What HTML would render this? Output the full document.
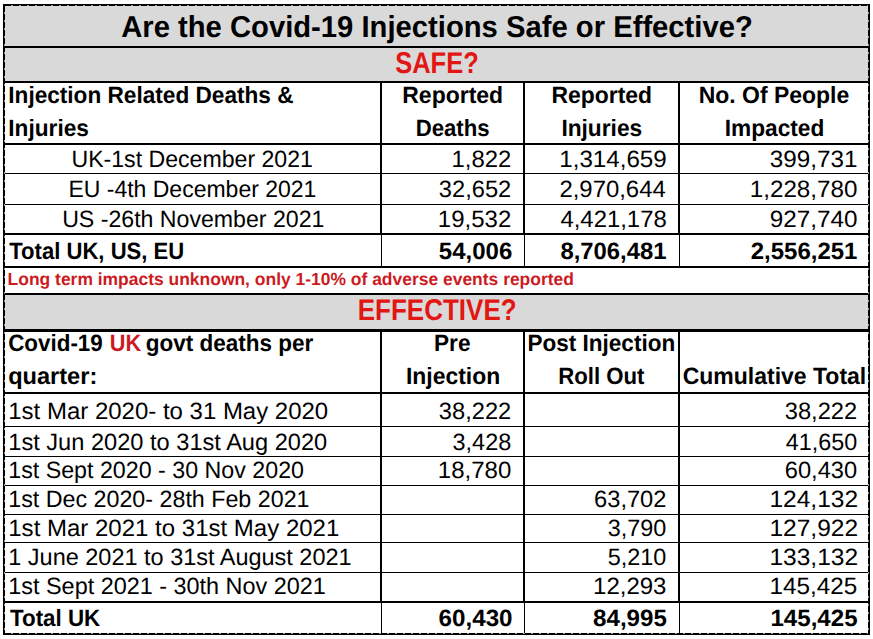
<!DOCTYPE html>
<html><head><meta charset="utf-8"><style>
html,body{margin:0;padding:0;background:#fff;width:873px;height:639px;overflow:hidden;position:relative}
svg{position:absolute;left:0;top:0}
text{font-family:"Liberation Sans",sans-serif;text-rendering:geometricPrecision}
</style></head><body>
<div style="position:absolute;left:3px;top:4px;width:867px;height:44px;background:#d9d9d9"></div>
<div style="position:absolute;left:3px;top:47px;width:867px;height:35px;background:#d9d9d9"></div>
<div style="position:absolute;left:3px;top:294px;width:867px;height:37px;background:#d9d9d9"></div>
<div style="position:absolute;left:3px;top:46px;width:867px;height:2px;background:#000"></div>
<div style="position:absolute;left:3px;top:81px;width:867px;height:2px;background:#000"></div>
<div style="position:absolute;left:3px;top:143px;width:867px;height:2px;background:#000"></div>
<div style="position:absolute;left:3px;top:173px;width:867px;height:1px;background:#000"></div>
<div style="position:absolute;left:3px;top:204px;width:867px;height:1px;background:#000"></div>
<div style="position:absolute;left:3px;top:233px;width:867px;height:2px;background:#000"></div>
<div style="position:absolute;left:3px;top:266px;width:867px;height:2px;background:#000"></div>
<div style="position:absolute;left:3px;top:293px;width:867px;height:2px;background:#000"></div>
<div style="position:absolute;left:3px;top:329px;width:867px;height:3px;background:#000"></div>
<div style="position:absolute;left:3px;top:392px;width:867px;height:2px;background:#000"></div>
<div style="position:absolute;left:3px;top:426px;width:867px;height:1px;background:#000"></div>
<div style="position:absolute;left:3px;top:456px;width:867px;height:1px;background:#000"></div>
<div style="position:absolute;left:3px;top:485px;width:867px;height:1px;background:#000"></div>
<div style="position:absolute;left:3px;top:514px;width:867px;height:1px;background:#000"></div>
<div style="position:absolute;left:3px;top:542px;width:867px;height:1px;background:#000"></div>
<div style="position:absolute;left:3px;top:572px;width:867px;height:1px;background:#000"></div>
<div style="position:absolute;left:3px;top:601px;width:867px;height:2px;background:#000"></div>
<div style="position:absolute;left:380px;top:82px;width:2px;height:152px;background:#000"></div>
<div style="position:absolute;left:381px;top:234px;width:1px;height:33px;background:#000"></div>
<div style="position:absolute;left:380px;top:331px;width:2px;height:271px;background:#000"></div>
<div style="position:absolute;left:381px;top:602px;width:1px;height:32px;background:#000"></div>
<div style="position:absolute;left:523px;top:82px;width:2px;height:152px;background:#000"></div>
<div style="position:absolute;left:524px;top:234px;width:1px;height:33px;background:#000"></div>
<div style="position:absolute;left:523px;top:331px;width:2px;height:271px;background:#000"></div>
<div style="position:absolute;left:524px;top:602px;width:1px;height:32px;background:#000"></div>
<div style="position:absolute;left:678px;top:82px;width:2px;height:152px;background:#000"></div>
<div style="position:absolute;left:679px;top:234px;width:1px;height:33px;background:#000"></div>
<div style="position:absolute;left:678px;top:331px;width:2px;height:271px;background:#000"></div>
<div style="position:absolute;left:679px;top:602px;width:1px;height:32px;background:#000"></div>
<div style="position:absolute;left:3px;top:4px;width:863px;height:627px;border:2px solid #000"></div>
<div style="position:absolute;left:5px;top:5px;width:863px;height:1px;background:repeating-linear-gradient(90deg,transparent 0 6px,#9a9a9a 6px 8px)"></div>
<div style="position:absolute;left:5px;top:633px;width:863px;height:1px;background:repeating-linear-gradient(90deg,transparent 0 6px,#9a9a9a 6px 8px)"></div>
<div style="position:absolute;left:4px;top:6px;width:1px;height:627px;background:repeating-linear-gradient(180deg,transparent 0 6px,#9a9a9a 6px 8px)"></div>
<div style="position:absolute;left:868px;top:6px;width:1px;height:627px;background:repeating-linear-gradient(180deg,transparent 0 6px,#9a9a9a 6px 8px)"></div>
<svg width="873" height="639">
<text x="121.17" y="37.0" font-size="30.23" font-weight="700" fill="#000000" textLength="631.66" lengthAdjust="spacingAndGlyphs">Are the Covid-19 Injections Safe or Effective?</text>
<text x="395.21" y="73.0" font-size="29.94" font-weight="700" fill="#e21612" textLength="83.56" lengthAdjust="spacingAndGlyphs">SAFE?</text>
<text x="8.29" y="103.0" font-size="23.55" font-weight="700" fill="#000000" textLength="285.23" lengthAdjust="spacingAndGlyphs">Injection Related Deaths &amp;</text>
<text x="8.27" y="136.0" font-size="23.55" font-weight="700" fill="#000000" textLength="80.64" lengthAdjust="spacingAndGlyphs">Injuries</text>
<text x="402.27" y="103.0" font-size="23.55" font-weight="700" fill="#000000" textLength="100.85" lengthAdjust="spacingAndGlyphs">Reported</text>
<text x="415.71" y="136.0" font-size="23.55" font-weight="700" fill="#000000" textLength="73.92" lengthAdjust="spacingAndGlyphs">Deaths</text>
<text x="551.47" y="103.0" font-size="23.55" font-weight="700" fill="#000000" textLength="100.54" lengthAdjust="spacingAndGlyphs">Reported</text>
<text x="561.38" y="136.0" font-size="23.55" font-weight="700" fill="#000000" textLength="80.77" lengthAdjust="spacingAndGlyphs">Injuries</text>
<text x="698.70" y="103.0" font-size="23.55" font-weight="700" fill="#000000" textLength="150.53" lengthAdjust="spacingAndGlyphs">No. Of People</text>
<text x="724.76" y="136.0" font-size="23.55" font-weight="700" fill="#000000" textLength="99.54" lengthAdjust="spacingAndGlyphs">Impacted</text>
<text x="71.48" y="167.0" font-size="23.55" font-weight="400" fill="#000000" textLength="241.43" lengthAdjust="spacingAndGlyphs">UK-1st December 2021</text>
<text x="68.38" y="197.0" font-size="23.55" font-weight="400" fill="#000000" textLength="248.03" lengthAdjust="spacingAndGlyphs">EU -4th December 2021</text>
<text x="62.18" y="227.0" font-size="23.55" font-weight="400" fill="#000000" textLength="262.23" lengthAdjust="spacingAndGlyphs">US -26th November 2021</text>
<text x="451.51" y="167.0" font-size="23.55" font-weight="400" fill="#000000" textLength="59.73" lengthAdjust="spacingAndGlyphs">1,822</text>
<text x="438.84" y="197.0" font-size="23.55" font-weight="400" fill="#000000" textLength="72.41" lengthAdjust="spacingAndGlyphs">32,652</text>
<text x="437.86" y="227.0" font-size="23.55" font-weight="400" fill="#000000" textLength="73.37" lengthAdjust="spacingAndGlyphs">19,532</text>
<text x="559.27" y="167.0" font-size="23.55" font-weight="400" fill="#000000" textLength="107.46" lengthAdjust="spacingAndGlyphs">1,314,659</text>
<text x="559.45" y="197.0" font-size="23.55" font-weight="400" fill="#000000" textLength="106.27" lengthAdjust="spacingAndGlyphs">2,970,644</text>
<text x="560.46" y="227.0" font-size="23.55" font-weight="400" fill="#000000" textLength="106.28" lengthAdjust="spacingAndGlyphs">4,421,178</text>
<text x="769.74" y="167.0" font-size="23.55" font-weight="400" fill="#000000" textLength="87.68" lengthAdjust="spacingAndGlyphs">399,731</text>
<text x="749.78" y="197.0" font-size="23.55" font-weight="400" fill="#000000" textLength="107.65" lengthAdjust="spacingAndGlyphs">1,228,780</text>
<text x="769.72" y="227.0" font-size="23.55" font-weight="400" fill="#000000" textLength="87.70" lengthAdjust="spacingAndGlyphs">927,740</text>
<text x="9.27" y="259.0" font-size="23.55" font-weight="700" fill="#000000" textLength="174.95" lengthAdjust="spacingAndGlyphs">Total UK, US, EU</text>
<text x="438.87" y="259.0" font-size="23.55" font-weight="700" fill="#000000" textLength="73.38" lengthAdjust="spacingAndGlyphs">54,006</text>
<text x="560.44" y="259.0" font-size="23.55" font-weight="700" fill="#000000" textLength="106.12" lengthAdjust="spacingAndGlyphs">8,706,481</text>
<text x="750.74" y="259.0" font-size="23.55" font-weight="700" fill="#000000" textLength="106.69" lengthAdjust="spacingAndGlyphs">2,556,251</text>
<text x="7.58" y="285.0" font-size="17.44" font-weight="700" fill="#cc1a22" textLength="566.34" lengthAdjust="spacingAndGlyphs">Long term impacts unknown, only 1-10% of adverse events reported</text>
<text x="357.67" y="320.0" font-size="29.94" font-weight="700" fill="#e21612" textLength="159.05" lengthAdjust="spacingAndGlyphs">EFFECTIVE?</text>
<text x="8.20" y="351.0" font-size="23.55" font-weight="700" fill="#000000" textLength="94.60" lengthAdjust="spacingAndGlyphs">Covid-19</text>
<text x="109.75" y="351.0" font-size="23.55" font-weight="700" fill="#cc1a22" textLength="31.39" lengthAdjust="spacingAndGlyphs">UK</text>
<text x="145.77" y="351.0" font-size="23.55" font-weight="700" fill="#000000" textLength="167.37" lengthAdjust="spacingAndGlyphs">govt deaths per</text>
<text x="8.15" y="384.0" font-size="23.55" font-weight="700" fill="#000000" textLength="89.11" lengthAdjust="spacingAndGlyphs">quarter:</text>
<text x="434.04" y="351.0" font-size="23.55" font-weight="700" fill="#000000" textLength="36.47" lengthAdjust="spacingAndGlyphs">Pre</text>
<text x="405.99" y="384.0" font-size="23.55" font-weight="700" fill="#000000" textLength="94.16" lengthAdjust="spacingAndGlyphs">Injection</text>
<text x="527.54" y="351.0" font-size="23.55" font-weight="700" fill="#000000" textLength="147.62" lengthAdjust="spacingAndGlyphs">Post Injection</text>
<text x="558.28" y="384.0" font-size="23.55" font-weight="700" fill="#000000" textLength="86.17" lengthAdjust="spacingAndGlyphs">Roll Out</text>
<text x="682.69" y="384.0" font-size="23.55" font-weight="700" fill="#000000" textLength="183.54" lengthAdjust="spacingAndGlyphs">Cumulative Total</text>
<text x="8.28" y="419.0" font-size="23.55" font-weight="400" fill="#000000" textLength="319.94" lengthAdjust="spacingAndGlyphs">1st Mar 2020- to 31 May 2020</text>
<text x="438.84" y="419.0" font-size="23.55" font-weight="400" fill="#000000" textLength="72.41" lengthAdjust="spacingAndGlyphs">38,222</text>
<text x="784.75" y="419.0" font-size="23.55" font-weight="400" fill="#000000" textLength="72.43" lengthAdjust="spacingAndGlyphs">38,222</text>
<text x="8.28" y="449.6" font-size="23.55" font-weight="400" fill="#000000" textLength="318.94" lengthAdjust="spacingAndGlyphs">1st Jun 2020 to 31st Aug 2020</text>
<text x="452.58" y="449.6" font-size="23.55" font-weight="400" fill="#000000" textLength="58.66" lengthAdjust="spacingAndGlyphs">3,428</text>
<text x="785.75" y="449.6" font-size="23.55" font-weight="400" fill="#000000" textLength="71.39" lengthAdjust="spacingAndGlyphs">41,650</text>
<text x="8.28" y="478.0" font-size="23.55" font-weight="400" fill="#000000" textLength="295.74" lengthAdjust="spacingAndGlyphs">1st Sept 2020 - 30 Nov 2020</text>
<text x="437.83" y="478.0" font-size="23.55" font-weight="400" fill="#000000" textLength="73.45" lengthAdjust="spacingAndGlyphs">18,780</text>
<text x="784.75" y="478.0" font-size="23.55" font-weight="400" fill="#000000" textLength="72.41" lengthAdjust="spacingAndGlyphs">60,430</text>
<text x="8.27" y="507.0" font-size="23.55" font-weight="400" fill="#000000" textLength="301.25" lengthAdjust="spacingAndGlyphs">1st Dec 2020- 28th Feb 2021</text>
<text x="594.09" y="507.0" font-size="23.55" font-weight="400" fill="#000000" textLength="72.35" lengthAdjust="spacingAndGlyphs">63,702</text>
<text x="769.41" y="507.0" font-size="23.55" font-weight="400" fill="#000000" textLength="88.76" lengthAdjust="spacingAndGlyphs">124,132</text>
<text x="8.28" y="536.0" font-size="23.55" font-weight="400" fill="#000000" textLength="331.03" lengthAdjust="spacingAndGlyphs">1st Mar 2021 to 31st May 2021</text>
<text x="607.79" y="536.0" font-size="23.55" font-weight="400" fill="#000000" textLength="58.62" lengthAdjust="spacingAndGlyphs">3,790</text>
<text x="769.41" y="536.0" font-size="23.55" font-weight="400" fill="#000000" textLength="88.76" lengthAdjust="spacingAndGlyphs">127,922</text>
<text x="8.29" y="565.0" font-size="23.55" font-weight="400" fill="#000000" textLength="343.32" lengthAdjust="spacingAndGlyphs">1 June 2021 to 31st August 2021</text>
<text x="607.76" y="565.0" font-size="23.55" font-weight="400" fill="#000000" textLength="58.66" lengthAdjust="spacingAndGlyphs">5,210</text>
<text x="769.41" y="565.0" font-size="23.55" font-weight="400" fill="#000000" textLength="88.76" lengthAdjust="spacingAndGlyphs">133,132</text>
<text x="8.28" y="594.0" font-size="23.55" font-weight="400" fill="#000000" textLength="317.55" lengthAdjust="spacingAndGlyphs">1st Sept 2021 - 30th Nov 2021</text>
<text x="593.07" y="594.0" font-size="23.55" font-weight="400" fill="#000000" textLength="73.42" lengthAdjust="spacingAndGlyphs">12,293</text>
<text x="769.45" y="594.0" font-size="23.55" font-weight="400" fill="#000000" textLength="87.69" lengthAdjust="spacingAndGlyphs">145,425</text>
<text x="9.98" y="625.6" font-size="23.55" font-weight="700" fill="#000000" textLength="90.32" lengthAdjust="spacingAndGlyphs">Total UK</text>
<text x="438.55" y="625.6" font-size="23.55" font-weight="700" fill="#000000" textLength="74.00" lengthAdjust="spacingAndGlyphs">60,430</text>
<text x="593.07" y="625.6" font-size="23.55" font-weight="700" fill="#000000" textLength="73.77" lengthAdjust="spacingAndGlyphs">84,995</text>
<text x="770.43" y="625.6" font-size="23.55" font-weight="700" fill="#000000" textLength="87.16" lengthAdjust="spacingAndGlyphs">145,425</text>
</svg>
</body></html>
